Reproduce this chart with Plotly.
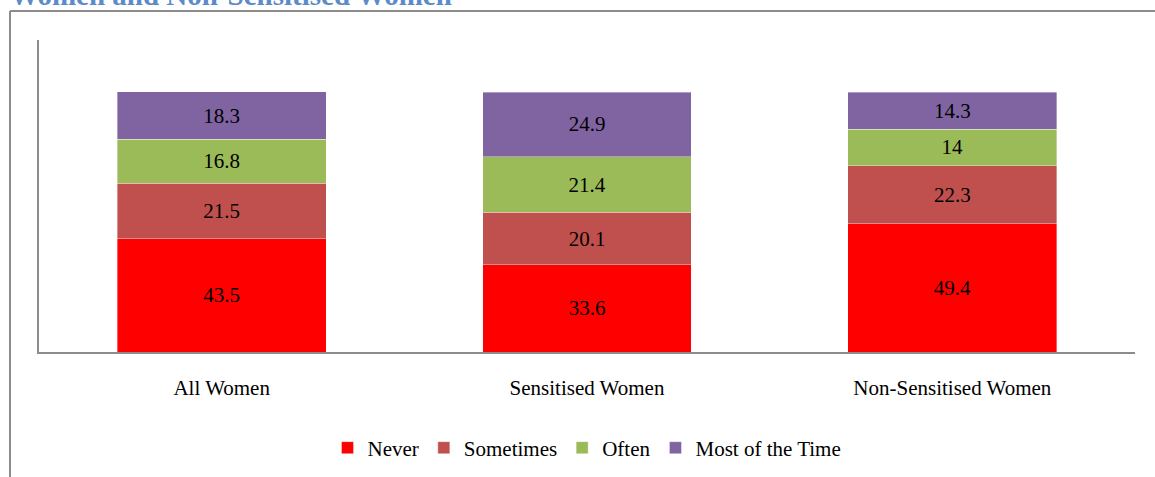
import plotly.graph_objects as go

# Share of women (%) by response, for each group
categories = ["All Women", "Sensitised Women", "Non-Sensitised Women"]
never = [43.5, 33.6, 49.4]
sometimes = [21.5, 20.1, 22.3]
often = [16.8, 21.4, 14.0]
most_of_the_time = [18.3, 24.9, 14.3]

series_names = ["Never", "Sometimes", "Often", "Most of the Time"]
series_values = [never, sometimes, often, most_of_the_time]
series_colors = ["#FF0000", "#C0504D", "#9BBB59", "#8064A2"]

title_text = "Women and Non-Sensitised Women"

FONT = "Liberation Serif, Times New Roman, serif"

W, H = 1155, 477
ML, MR, MT, MB = 39, 20, 40, 125
plot_w = W - ML - MR
plot_h = H - MT - MB


def px_to_paper_x(px):
    return (px - ML) / plot_w


def px_to_paper_y(py):
    return (H - MB - py) / plot_h


fig = go.Figure()
for name, vals, color in zip(series_names, series_values, series_colors):
    fig.add_trace(go.Bar(
        name=name,
        x=categories,
        y=vals,
        text=[f"{v:g}" for v in vals],
        textposition="inside",
        insidetextanchor="middle",
        textangle=0,
        constraintext="none",
        textfont=dict(family=FONT, size=21, color="black"),
        marker=dict(color=color, line=dict(color="rgba(255,255,255,0.45)", width=0.8)),
        hoverinfo="skip",
    ))

# outer frame of the chart box (left and top edges)
frame_x = px_to_paper_x(10)
frame_top = px_to_paper_y(11)
fig.add_shape(type="line", xref="paper", yref="paper",
              x0=frame_x, x1=frame_x, y0=px_to_paper_y(H + 5), y1=frame_top,
              line=dict(color="#8C8C8C", width=2))
fig.add_shape(type="line", xref="paper", yref="paper",
              x0=frame_x, x1=px_to_paper_x(W + 5), y0=frame_top, y1=frame_top,
              line=dict(color="#8C8C8C", width=2))

# heading running above the frame
fig.add_annotation(
    text=f"<b>{title_text}</b>", xref="paper", yref="paper",
    x=px_to_paper_x(8), y=px_to_paper_y(13), xanchor="left", yanchor="bottom",
    showarrow=False, font=dict(family=FONT, size=29, color="#5B8BC9"),
)

fig.update_layout(
    width=W, height=H,
    margin=dict(l=ML, r=MR, t=MT, b=MB),
    barmode="stack",
    bargap=0.428,
    paper_bgcolor="white",
    plot_bgcolor="white",
    font=dict(family=FONT, size=21, color="black"),
    showlegend=True,
    legend=dict(
        orientation="h", x=0.5, xanchor="center",
        yref="container", y=(H - 448) / H, yanchor="middle",
        font=dict(family=FONT, size=21, color="black"),
        traceorder="normal", itemclick=False,
    ),
    xaxis=dict(
        showline=True, linecolor="#8C8C8C", linewidth=2,
        ticks="", showgrid=False, ticklabelstandoff=16,
        tickfont=dict(family=FONT, size=21, color="black"),
    ),
    yaxis=dict(
        range=[0, 120], showline=True, linecolor="#8C8C8C", linewidth=2,
        showticklabels=False, ticks="", showgrid=False, zeroline=False,
    ),
)

fig.write_html("out.html")
